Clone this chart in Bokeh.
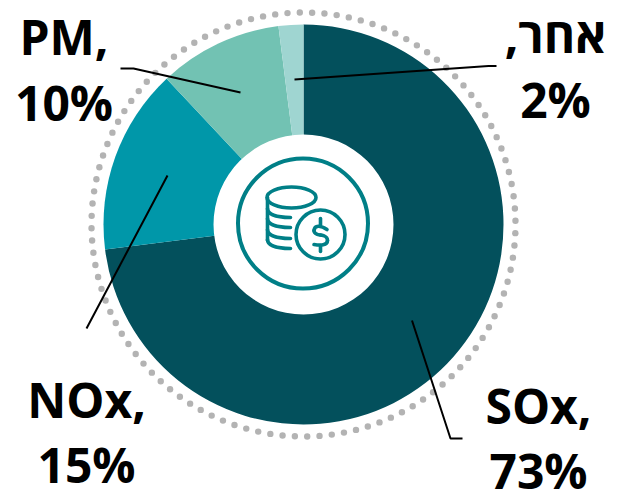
import math
from bokeh.plotting import figure
from bokeh.embed import file_html
from bokeh.resources import INLINE
from bokeh.core.properties import value
from bokeh.models import Range1d, ColumnDataSource

categories = ["SOx", "NOx", "PM", "אחר"]
values = [73, 15, 10, 2]
colors = ["#03505C", "#0097A9", "#72C2B3", "#9FD5D1"]
label_first = ["SOx,", "NOx,", "PM,", "אחר,\u200f"]
label_second = ["73%", "15%", "10%", "2%"]
label_x = [538, 86, 63.5, 555]
label_mid_1 = [405, 399, 36, 34]
label_mid_2 = [470, 464, 102, 99]
leaders_x = [[411.5, 450, 462], [167, 86], [240, 133, 120], [294, 488, 496]]
leaders_y = [[320, 438, 438], [175, 328], [92, 68, 68], [79, 65.5, 65.5]]

W, H = 618, 492
CX, CY = 303, 224
def Y(py):
    return H - py

p = figure(width=W, height=H, x_range=Range1d(0, W), y_range=Range1d(0, H),
           output_backend="svg", toolbar_location=None, min_border=0,
           outline_line_color=None)
p.axis.visible = False
p.grid.visible = False
p.background_fill_color = "white"
p.border_fill_color = "white"

# dotted outer ring
n_dots = 108
dot_ang = [math.radians(-1) + 2 * math.pi * i / n_dots for i in range(n_dots)]
p.scatter([CX + 212 * math.sin(a) for a in dot_ang], [Y(CY) + 212 * math.cos(a) for a in dot_ang],
          size=6.4, color="#B3B3B3", line_color=None)

# pie
total = sum(values)
cum = [sum(values[:i]) for i in range(len(values) + 1)]
src = ColumnDataSource(dict(
    start=[math.pi / 2 - 2 * math.pi * cum[i] / total for i in range(len(values))],
    end=[math.pi / 2 - 2 * math.pi * cum[i + 1] / total for i in range(len(values))],
    color=colors, cat=categories, val=values))
p.wedge(x=CX, y=Y(CY), radius=200, start_angle="start", end_angle="end", direction="clock",
        fill_color="color", line_color=None, source=src)
p.circle(x=[CX], y=[Y(CY)], radius=90, fill_color="white", line_color=None)

# icon
ic = "#007F87"
p.circle(x=[302.5], y=[Y(223)], radius=65, fill_color=None, line_color=ic, line_width=4)
p.circle(x=[320], y=[Y(234)], radius=24.5, fill_color=None, line_color=ic, line_width=3.6)
p.ellipse(x=[291], y=[Y(197)], width=49, height=21, fill_color=None, line_color=ic, line_width=3.6)
lw = dict(line_color=ic, line_width=3.6, line_cap="round")
p.line([267, 267], [Y(197), Y(240)], **lw)
for yr in [217, 227, 238, 248]:
    p.bezier(x0=[267], y0=[Y(yr - 9)], x1=[290], y1=[Y(yr)], cx0=[267], cy0=[Y(yr - 3)],
             cx1=[276], cy1=[Y(yr)], **lw)
sx = [(326.5, 229), (320, 224.5), (314, 224.5), (313.5, 230), (313.5, 234), (320, 234.5), (320, 234.5),
      (320, 234.5), (327, 235), (327, 240), (327, 245), (320, 245), (313.5, 244)]
for i in [0, 3, 6, 9]:
    a, b, c, d = sx[i:i + 4]
    p.bezier(x0=[a[0]], y0=[Y(a[1])], cx0=[b[0]], cy0=[Y(b[1])], cx1=[c[0]], cy1=[Y(c[1])],
             x1=[d[0]], y1=[Y(d[1])], **lw)
p.line([320, 320], [Y(218), Y(224)], **lw)
p.line([320, 320], [Y(245), Y(251)], **lw)

# leaders
p.multi_line(leaders_x, [[Y(v) for v in ys] for ys in leaders_y], line_color="black", line_width=2)

# labels
kw = dict(text_font=value("Open Sans"), text_font_style="bold", text_font_size="48px",
          text_color="black", text_align="center", text_baseline="middle")
p.text(label_x, [Y(v) for v in label_mid_1], text=label_first, **kw)
p.text(label_x, [Y(v) for v in label_mid_2], text=label_second, **kw)

open("out.html", "w").write(file_html(p, INLINE))
